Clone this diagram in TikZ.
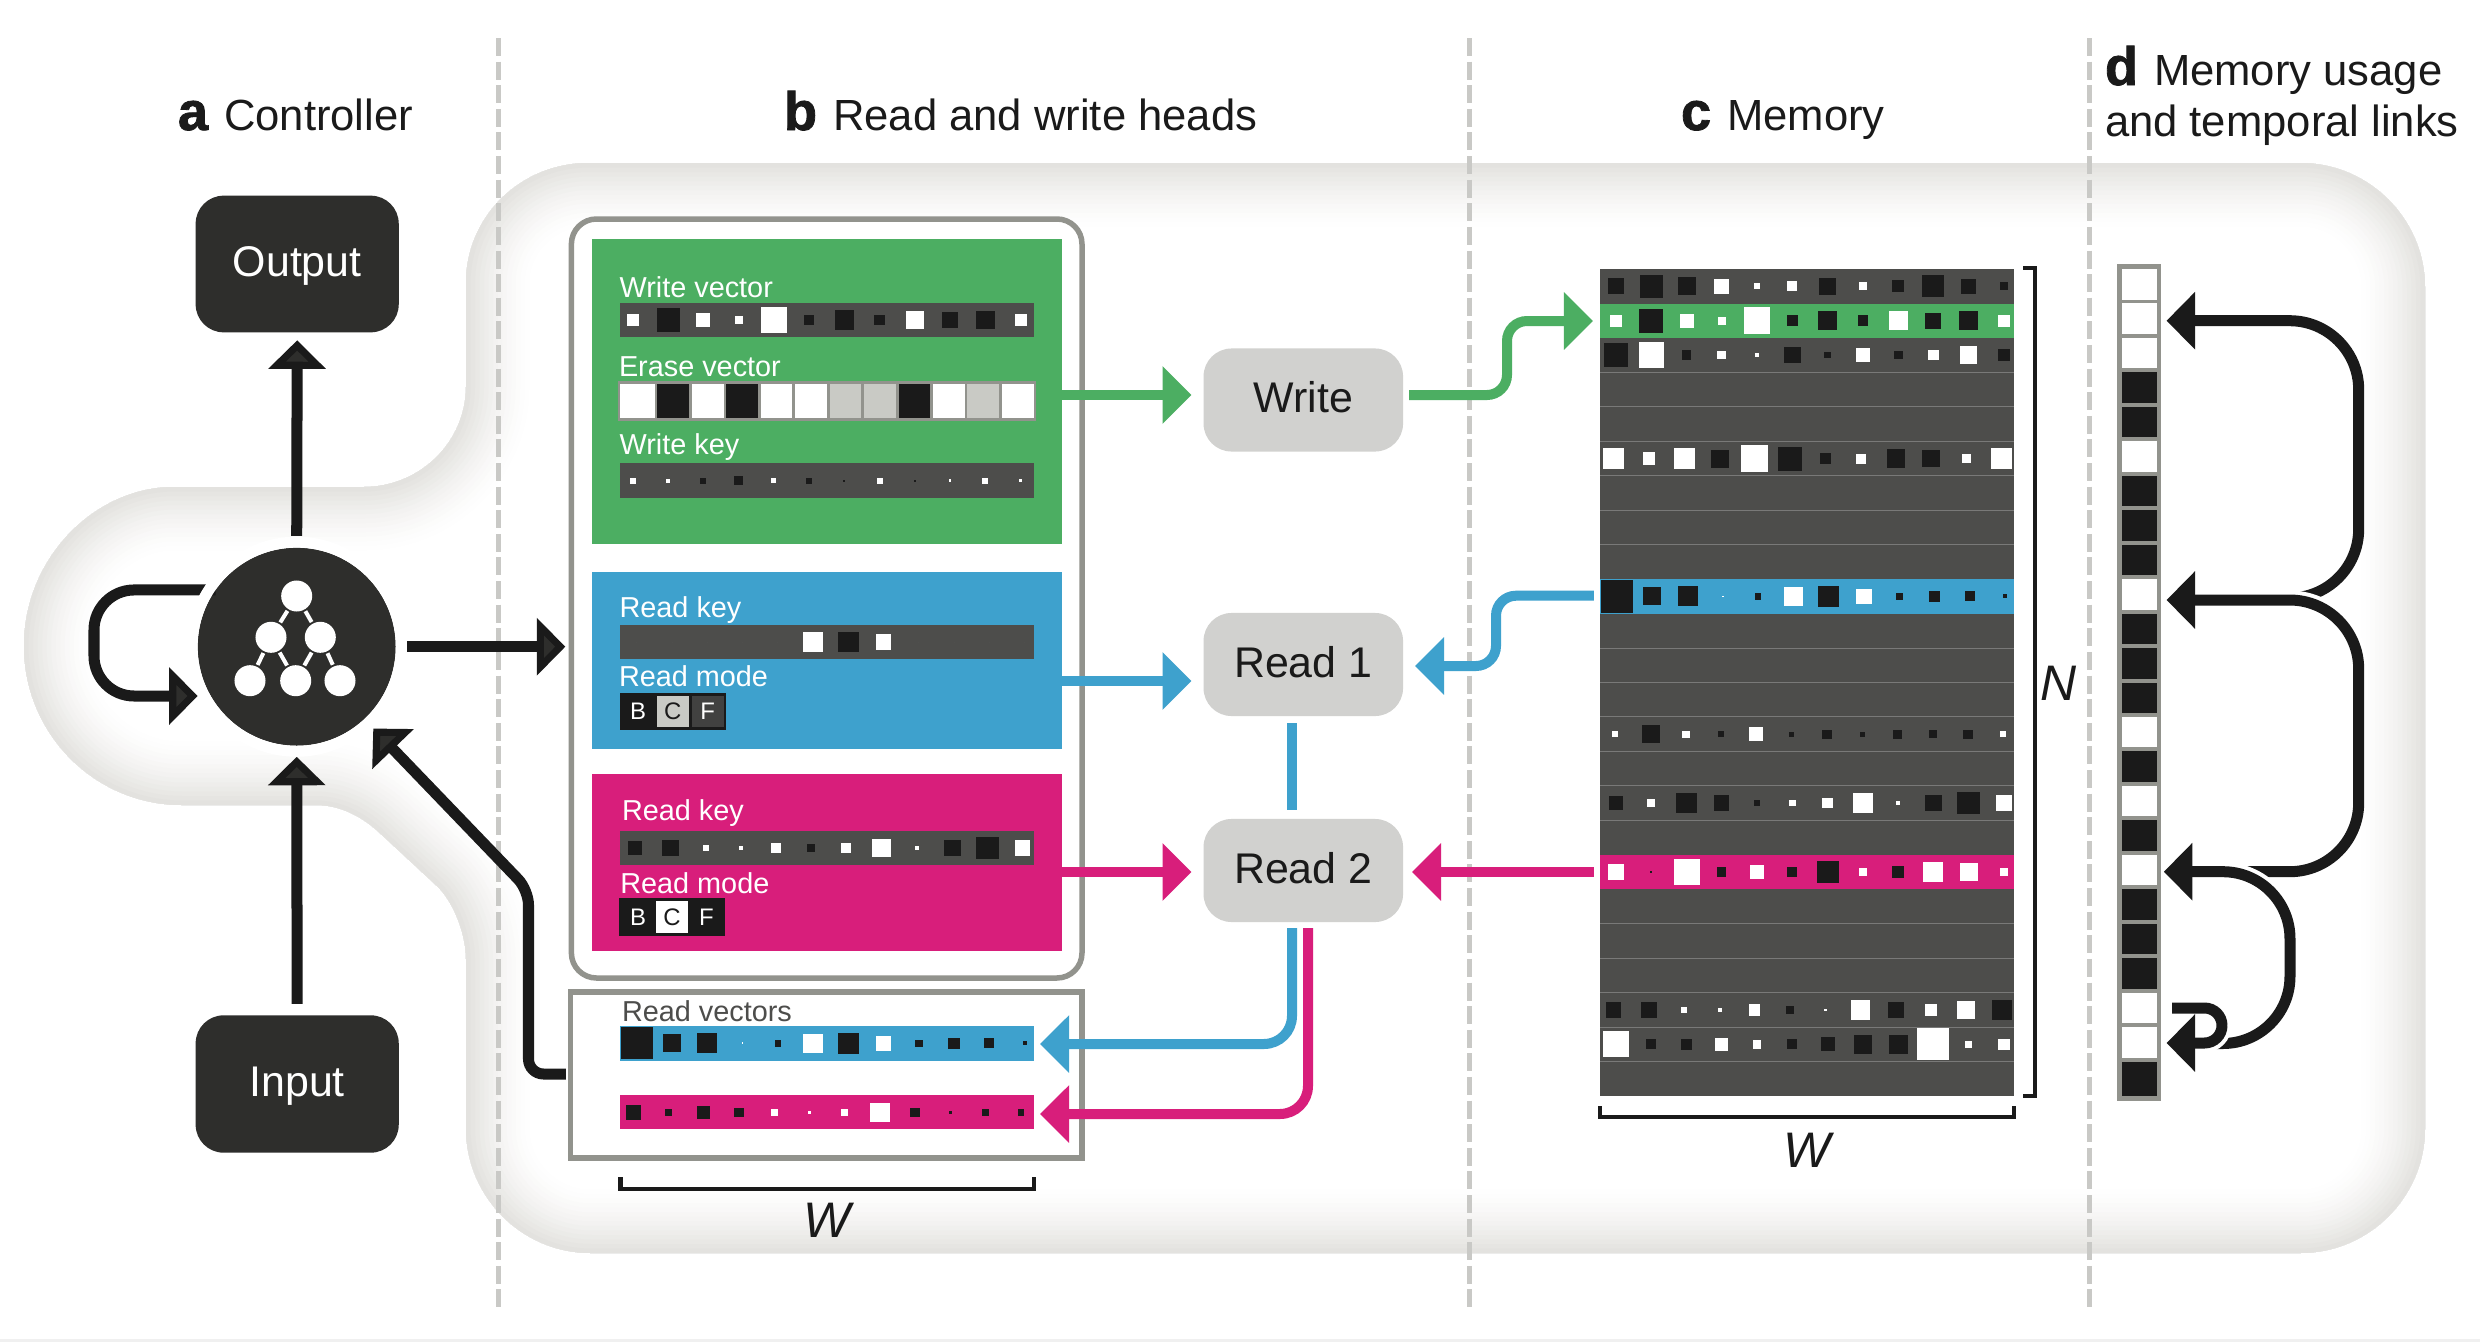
\documentclass[tikz,border=0pt]{standalone}
\usepackage{fontspec}
\setmainfont{Liberation Sans}
\newfontfamily\letterfont{Liberation Sans}[BoldFeatures={FakeBold=1.5}]
\usetikzlibrary{arrows.meta}
\definecolor{ntmgreen}{HTML}{4CAE62}
\definecolor{ntmblue}{HTML}{3EA1CD}
\definecolor{ntmpink}{HTML}{D81E7B}
\definecolor{cellblack}{HTML}{1A1A1A}
\definecolor{boxdark}{HTML}{2E2E2C}
\definecolor{stripgray}{HTML}{4D4D4B}
\definecolor{framegray}{HTML}{92938D}
\definecolor{headgray}{HTML}{D1D1CF}
\definecolor{erasegray}{HTML}{C9CAC5}
\definecolor{glowgray}{HTML}{E0DFDB}
\definecolor{sepgray}{HTML}{C9C9C6}
\tikzset{
  panel/.style={inner sep=0pt,outer sep=0pt},
  boxnode/.style={panel,fill=boxdark,text=white,rounded corners=.28cm,minimum width=2.03cm,text height=.31cm,text depth=.06cm,font=\fontsize{12.2}{14}\selectfont},
  headnode/.style={panel,fill=headgray,text=cellblack,rounded corners=.28cm,minimum width=1.994cm,minimum height=1.03cm,text height=.31cm,text depth=.06cm,font=\fontsize{12.2}{14}\selectfont},
  vecstrip/.style={panel,minimum width=4.132cm},
  veclabel/.style={panel,anchor=base west,text=white,font=\fontsize{8.2}{10}\selectfont},
  headtext/.style={panel,anchor=base west,text=cellblack,font=\fontsize{12.4}{14}\selectfont},
  sizetext/.style={panel,text=cellblack,font=\itshape\fontsize{14.2}{16}\selectfont},
  modecell/.style={panel,minimum width=.32cm,minimum height=.31cm,text=white,font=\fontsize{6.8}{8}\selectfont},
  treenode/.style={panel,circle,fill=white,minimum size=.31cm},
  treeline/.style={white,line width=.04cm,shorten >=.02cm,shorten <=.02cm},
  sepline/.style={sepgray,line width=.05cm,dash pattern=on .18cm off .056cm},
  bracket/.style={cellblack,line width=.045cm},
  headarrow/.style={line width=.1cm,-{Triangle[length=.29cm,width=.56cm]}},
  ctrlarrow/.style={cellblack,line width=.11cm,-{Triangle[length=.285cm,width=.56cm,fill=boxdark]}},
  linkarrow/.style={cellblack,line width=.11cm,shorten >=.057cm,-{Triangle[length=.285cm,width=.56cm]}},
  casing/.style={white,line width=.19cm}
}
\newcommand{\blobshape}{(589,163) -- (2300,163) .. controls (2369,163) and (2425,219) .. (2425,288) -- (2425,1128)
  .. controls (2425,1197) and (2369,1253) .. (2300,1253) -- (591,1253) .. controls (522,1253) and (466,1197) .. (466,1128)
  -- (466,959) .. controls (466,935) and (455,905) .. (438.7,887.5) -- (381,834) .. controls (362,816) and (340,805) .. (316,805)
  -- (182,805) .. controls (95,805) and (24,734) .. (24,646) .. controls (24,558) and (95,487) .. (174,487)
  -- (364,487) .. controls (420,487) and (466,442) .. (466,387) -- (466,283) .. controls (466,217) and (520,163) .. (589,163)}
\newcommand{\panelhead}[2]{{\letterfont\bfseries\fontsize{15.4}{15.4}\selectfont #1}\hspace{.16cm}#2}
\newcommand{\cellrow}[4]{
  \pgfmathsetmacro\celly{#3}
  \foreach \val [count=\k from 0] in {#4} {
    \pgfmathsetmacro\cellx{#1+#2*\k}
    \pgfmathsetmacro\cellhalf{abs(\val)/6}
    \ifdim \val pt<0pt \def\cellcol{cellblack}\else\def\cellcol{white}\fi
    \fill[\cellcol] (\cellx-\cellhalf,\celly-\cellhalf) rectangle (\cellx+\cellhalf,\celly+\cellhalf);
  }
}
\newcommand{\memrow}[3]{\cellrow{#2}{35.27}{269+34.46*(#1+.5)}{#3}}
\begin{document}
\begin{tikzpicture}[x=.01cm,y=-.01cm]
  \useasboundingbox (0,0) rectangle (2480,1342);
  \fill[white] (0,0) rectangle (2480,1342);
  \fill[black!6] (0,1339) rectangle (2480,1342);
  \begin{scope}
    \clip \blobshape -- cycle;
    \foreach \g in {15,...,1} {
      \pgfmathsetmacro\glowmix{100*(1-\g/16)^1.6}
      \pgfmathsetmacro\glowwidth{.09*\g}
      \draw[draw=glowgray!\glowmix!white,line width=\glowwidth cm] \blobshape -- cycle;
    }
  \end{scope}
  \foreach \sx in {498,1469,2089} {
    \draw[sepline] (\sx,38) -- (\sx,1308);
  }

  \node[headtext] (heada) at (178,130) {\panelhead{a}{Controller}};
  \node[headtext] (headb) at (784,130) {\panelhead{b}{Read and write heads}};
  \node[headtext] (headc) at (1681,130) {\panelhead{c}{Memory}};
  \node[headtext] (headd) at (2105,85) {\panelhead{d}{Memory usage}};
  \node[headtext] (headd2) at (2105,136) {and temporal links};

  \node[boxnode,minimum height=1.366cm] (output) at (297.2,264) {Output};
  \node[boxnode,minimum height=1.373cm] (input) at (297.2,1084) {Input};
  \node[panel,circle,fill=boxdark,minimum size=1.98cm] (ctrl) at (296.7,646.7) {};
  \node[treenode] (tree1) at (296.7,596) {};
  \node[treenode] (tree2) at (271,637.3) {};
  \node[treenode] (tree3) at (320.3,637.3) {};
  \node[treenode] (tree4) at (250,680.7) {};
  \node[treenode] (tree5) at (295.7,680.7) {};
  \node[treenode] (tree6) at (340,680.7) {};
  \draw[treeline] (tree1) -- (tree2);
  \draw[treeline] (tree1) -- (tree3);
  \draw[treeline] (tree2) -- (tree4);
  \draw[treeline] (tree2) -- (tree5);
  \draw[treeline] (tree3) -- (tree5);
  \draw[treeline] (tree3) -- (tree6);

  \draw[framegray,line width=.055cm,fill=white,rounded corners=.25cm] (571.4,219) rectangle (1082,978);
  \node[panel,minimum width=5.104cm,minimum height=7.59cm] (mainframe) at (826.7,598.5) {};
  \node[panel,fill=ntmgreen,minimum width=4.703cm,minimum height=3.054cm] (writepanel) at (826.8,391.3) {};
  \node[panel,fill=ntmblue,minimum width=4.703cm,minimum height=1.766cm] (readpanela) at (826.8,660.3) {};
  \node[panel,fill=ntmpink,minimum width=4.703cm,minimum height=1.77cm] (readpanelb) at (826.8,862.5) {};

  \node[veclabel] (lblwv) at (619.6,297.5) {Write vector};
  \node[vecstrip,fill=stripgray,minimum height=.34cm] (writevec) at (826.9,320) {};
  \cellrow{633}{35.23}{320}{36,-70,42,24,78,-32,-58,-32,56,-48,-56,36}
  \node[veclabel] (lblev) at (619,376.4) {Erase vector};
  \node[panel,fill=framegray,minimum width=4.181cm,minimum height=.393cm] (erasevec) at (827,401) {};
  \fill[white] (620.3,384.3) rectangle (623,417.9);
  \foreach \c [count=\k from 0] in {white,cellblack,white,cellblack,white,white,erasegray,erasegray,cellblack,white,erasegray,white} {
    \fill[\c] (623+34.44*\k,384.3) rectangle (654.7+34.44*\k,417.9);
  }
  \node[veclabel] (lblwk) at (619.6,454.6) {Write key};
  \node[vecstrip,fill=stripgray,minimum height=.346cm] (writekey) at (826.9,480.2) {};
  \cellrow{633}{35.23}{480.7}{18,12,-18,-26,15,-18,-6,18,-6,8,18,8}

  \node[veclabel] (lblrka) at (619.6,617) {Read key};
  \node[vecstrip,fill=stripgray,minimum height=.343cm] (readkeya) at (826.9,642) {};
  \cellrow{636.8}{35.26}{642}{0,0,0,0,0,58,-62,46,0,0,0,0}
  \node[veclabel] (lblrma) at (619,686.8) {Read mode};
  \node[panel,fill=cellblack,minimum width=1.064cm,minimum height=.367cm] (modea) at (672.8,711.2) {};
  \node[modecell,fill=cellblack] (modeab) at (638,711.5) {B};
  \node[modecell,fill=erasegray,text=cellblack] (modeac) at (672.8,711.5) {C};
  \node[modecell,fill=stripgray!85!black] (modeaf) at (707.6,711.5) {F};

  \node[veclabel] (lblrkb) at (622,820) {Read key};
  \node[vecstrip,fill=stripgray,minimum height=.34cm] (readkeyb) at (826.9,848) {};
  \cellrow{635.1}{35.23}{848}{-44,-50,18,12,32,-24,30,56,12,-50,-68,46}
  \node[veclabel] (lblrmb) at (620.3,893.3) {Read mode};
  \node[panel,fill=cellblack,minimum width=1.061cm,minimum height=.374cm] (modeb) at (672,917) {};
  \node[modecell,fill=cellblack] (modebb) at (638.2,917) {B};
  \node[modecell,fill=white,text=cellblack] (modebc) at (672,917) {C};
  \node[modecell,fill=cellblack] (modebf) at (706.3,917) {F};

  \draw[framegray,line width=.055cm,fill=white] (570.4,992) rectangle (1082,1158);
  \node[panel,minimum width=5.116cm,minimum height=1.66cm] (readbox) at (826.2,1075) {};
  \node[veclabel,text=stripgray] (lblrv) at (622,1021.7) {Read vectors};
  \node[vecstrip,fill=ntmblue,minimum height=.347cm] (readveca) at (826.9,1043.3) {};
  \cellrow{636.8}{35.26}{1043.3}{-97,-54,-60,5,-20,58,-62,46,-22,-34,-30,-12}
  \node[vecstrip,fill=ntmpink,minimum height=.343cm] (readvecb) at (826.9,1112.2) {};
  \cellrow{633.3}{35.23}{1112.3}{-46,-20,-38,-28,20,8,20,58,-28,-10,-20,-20}
  \draw[bracket] (620.6,1177) -- (620.6,1189) -- (1033.8,1189) -- (1033.8,1177);
  \node[sizetext] (sizew) at (827,1220) {W};

  \node[headnode] (writehead) at (1303.3,400) {Write};
  \node[headnode] (reada) at (1303.3,664.5) {Read 1};
  \node[headnode] (readb) at (1303.3,870.5) {Read 2};

  \node[panel,fill=stripgray,minimum width=4.14cm,minimum height=8.27cm] (memory) at (1807,682.5) {};
  \fill[ntmgreen] (1600,303.5) rectangle (2014,337.9);
  \fill[ntmblue] (1600,579.1) rectangle (2014,613.6);
  \fill[ntmpink] (1600,854.8) rectangle (2014,889.2);
  \foreach \r in {3,4,5,6,7,8,11,12,13,14,15,16,19,20,21,22,23} {
    \draw[stripgray!75!white,line width=.01cm] (1600,269+34.46*\r) -- (2014,269+34.46*\r);
  }
  \memrow{0}{1616}{-48,-70,-54,46,18,30,-50,24,-36,-66,-46,-24}
  \memrow{1}{1616}{36,-72,42,24,80,-34,-58,-32,56,-48,-56,36}
  \memrow{2}{1616}{-74,76,-28,26,10,-50,-20,42,-26,32,52,-34}
  \memrow{5}{1613.7}{62,38,62,-54,80,-72,-34,30,-56,-52,28,64}
  \memrow{9}{1617}{-98,-54,-60,5,-20,58,-62,46,-22,-34,-30,-12}
  \memrow{13}{1615.3}{18,-54,22,-18,42,-16,-28,-14,-28,-24,-28,18}
  \memrow{15}{1616}{-40,24,-62,-46,-20,20,32,58,12,-50,-68,48}
  \memrow{17}{1616}{48,-6,78,-28,40,-30,-66,22,-36,60,54,22}
  \memrow{21}{1613.7}{-46,-50,18,12,34,-22,8,58,-48,38,54,-60}
  \memrow{22}{1616}{78,-30,-32,40,26,-30,-42,-56,-56,96,22,34}
  \draw[bracket] (2023,268) -- (2035,268) -- (2035,1096) -- (2023,1096);
  \draw[bracket] (1600,1106) -- (1600,1117) -- (2014,1117) -- (2014,1106);
  \node[sizetext] (sizen) at (2059,683) {N};
  \node[sizetext] (sizewm) at (1807,1150) {W};

  \node[panel,fill=framegray,minimum width=.437cm,minimum height=8.36cm] (usage) at (2139,682.7) {};
  \foreach \c [count=\k from 0] in {white,white,white,cellblack,cellblack,white,cellblack,cellblack,cellblack,white,cellblack,cellblack,cellblack,white,cellblack,white,cellblack,white,cellblack,cellblack,cellblack,white,white} {
    \fill[\c] (2121.7,269+34.46*\k) rectangle (2156.7,299.5+34.46*\k);
  }
  \fill[cellblack] (2121.7,1062) rectangle (2156.7,1096);

  \draw[ctrlarrow,shorten <=.117cm,shorten >=.08cm] (ctrl.north) -- (output.south);
  \draw[ctrlarrow,shorten <=.115cm,shorten >=.11cm] (input.north) -- (ctrl.south);
  \draw[ctrlarrow,shorten <=.113cm,shorten >=.06cm] (ctrl.east) -- (mainframe.west |- ctrl.east);
  \draw[ctrlarrow,rounded corners=.4cm] (ctrl.145) -- (94,590) -- (94,696) -- (ctrl.west |- 0,696);
  \draw[ctrlarrow,rounded corners=.15cm,shorten <=.045cm,shorten >=.13cm] (readbox.west |- 0,1074) -- (528.5,1074) -- (528.5,890) -- (ctrl.-47.5);
  \draw[white,line width=.11cm] (ctrl) circle [radius=1.045cm];

  \draw[headarrow,ntmgreen,shorten >=.12cm] (writepanel.east |- 0,395) -- (writehead.west |- 0,395);
  \draw[headarrow,ntmblue,shorten >=.12cm] (readpanela.east |- 0,681) -- (reada.west |- 0,681);
  \draw[headarrow,ntmpink,shorten >=.12cm] (readpanelb.east |- 0,872) -- (readb.west |- 0,872);
  \draw[headarrow,ntmgreen,rounded corners=.2cm,shorten <=.06cm,shorten >=.07cm] (writehead.east |- 0,395) -- (1507,395) -- (1507,321) -- (memory.west |- 0,321);
  \draw[headarrow,ntmblue,rounded corners=.2cm,shorten <=.06cm,shorten >=.12cm] (memory.west |- 0,595.7) -- (1496,595.7) -- (1496,666) -- (reada.east |- 0,666);
  \draw[headarrow,ntmpink,shorten <=.06cm,shorten >=.09cm] (memory.west |- 0,872) -- (readb.east |- 0,872);
  \draw[ntmblue,line width=.1cm,shorten <=.07cm,shorten >=.09cm] (reada.south -| 1292,0) -- (readb.north -| 1292,0);
  \draw[headarrow,ntmblue,rounded corners=.28cm,shorten <=.06cm,shorten >=.065cm] (readb.south -| 1292,0) |- (readveca.east |- 0,1044);
  \draw[headarrow,ntmpink,rounded corners=.28cm,shorten <=.06cm,shorten >=.065cm] (readb.south -| 1308,0) |- (readvecb.east |- 0,1114);

  \draw[linkarrow,rounded corners=.69cm] (2290,598) -- (2358.7,598) -- (2358.7,320.7) -- (usage.east |- 0,320.7);
  \draw[casing,rounded corners=.69cm] (2358.7,700) -- (2358.7,600) -- (2270,600);
  \draw[linkarrow,rounded corners=.69cm] (2240,871.7) -- (2358.7,871.7) -- (2358.7,600) -- (usage.east |- 0,600);
  \draw[casing,rounded corners=.67cm] (2290,930) -- (2290,871.7) -- (2215,871.7);
  \draw[linkarrow,rounded corners=.67cm,shorten >=.03cm] (2215,1043.5) -- (2290,1043.5) -- (2290,871.7) -- (usage.east |- 0,871.7);
  \draw[casing,rounded corners=.175cm] (2222,1015) -- (2222,1043) -- (2200,1043);
  \draw[linkarrow,rounded corners=.175cm] (2172,1008) -- (2222,1008) -- (2222,1043) -- (usage.east |- 0,1043);
\end{tikzpicture}
\end{document}
